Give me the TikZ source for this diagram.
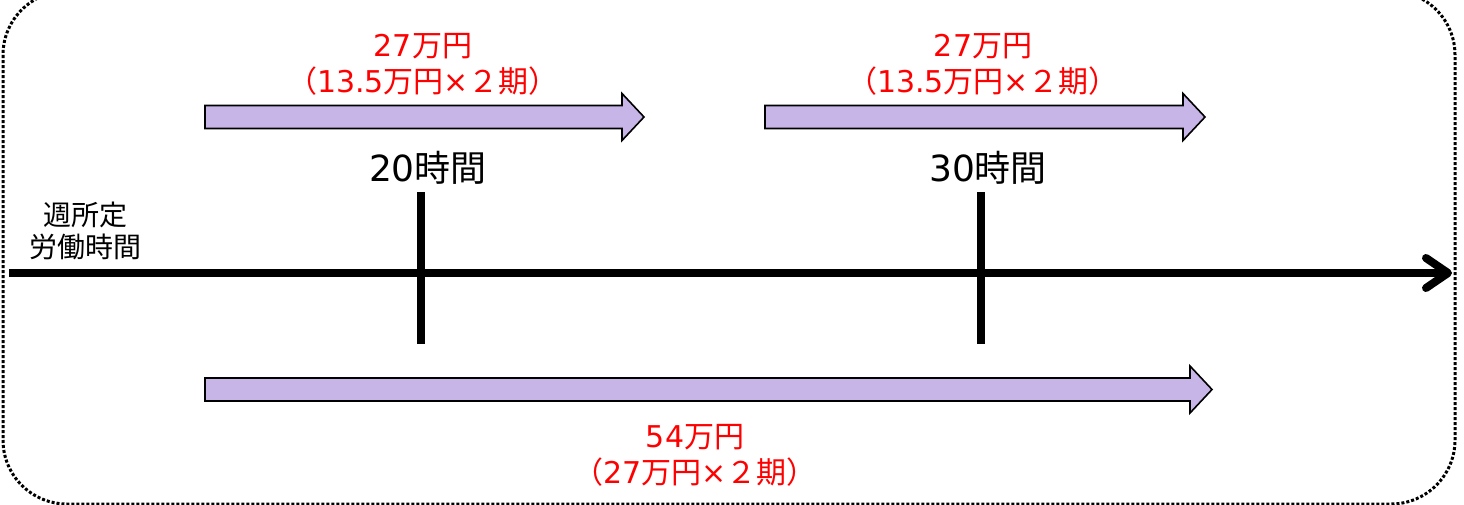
\documentclass[tikz,border=0pt]{standalone}
\usepackage{fontspec}
\setmainfont{Noto Sans CJK JP}
\newfontfamily\latinfont{DejaVu Sans}
\newcommand{\lat}[1]{{\latinfont #1}}
\usetikzlibrary{arrows.meta}
\definecolor{arrowfill}{RGB}{200,181,232}
\tikzset{
  blockarrow/.style={draw=black, line width=1.6pt, fill=arrowfill, line join=miter},
  amount/.style={text=red, align=center, font=\fontsize{30}{36}\selectfont},
  hours/.style={font=\fontsize{36}{40}\selectfont},
  axislabel/.style={align=center, font=\fontsize{28}{32}\selectfont},
  hourtick/.style={line width=8pt},
}
% block arrow: start x, tip x, centre y
\newcommand{\wagearrow}[3]{%
  \draw[blockarrow] (#1,#3-11.5) -- (#2-22,#3-11.5) -- (#2-22,#3-23.5) -- (#2,#3)
    -- (#2-22,#3+23.5) -- (#2-22,#3+11.5) -- (#1,#3+11.5) -- cycle;}
\begin{document}
\begin{tikzpicture}[x=1pt,y=-1pt]
\useasboundingbox (0,0) rectangle (1464,504);
% dotted frame
\draw[line width=3pt, dash pattern=on 3pt off 2pt, rounded corners=64pt] (3,-9) rectangle (1455,504);

% time axis
\coordinate (axis start) at (9,273);
\coordinate (axis end) at (1452,273);
\draw[line width=8pt, -{Straight Barb[length=22pt, width=30pt, round]}] (axis start) -- (axis end);
\node[axislabel] (axis label) at (85,231) {週所定\\労働時間};

% hour marks
\coordinate (t20 top) at (421,192);
\coordinate (t20 bottom) at (421,344);
\coordinate (t30 top) at (981,192);
\coordinate (t30 bottom) at (981,344);
\draw[hourtick] (t20 top) -- (t20 bottom);
\draw[hourtick] (t30 top) -- (t30 bottom);
\node[hours] (h20) at (428,168) {\lat{20}時間};
\node[hours] (h30) at (988,168) {\lat{30}時間};

% subsidy arrows
\wagearrow{205}{644}{117}
\wagearrow{765}{1205}{117}
\wagearrow{205}{1212}{389.5}
\node[amount] (a20) at (423,64) {\lat{27}万円\\（\lat{13.5}万円\lat{×}２期）};
\node[amount] (a30) at (983,64) {\lat{27}万円\\（\lat{13.5}万円\lat{×}２期）};
\node[amount] (atotal) at (695,455) {\lat{54}万円\\（\lat{27}万円\lat{×}２期）};
\end{tikzpicture}
\end{document}
